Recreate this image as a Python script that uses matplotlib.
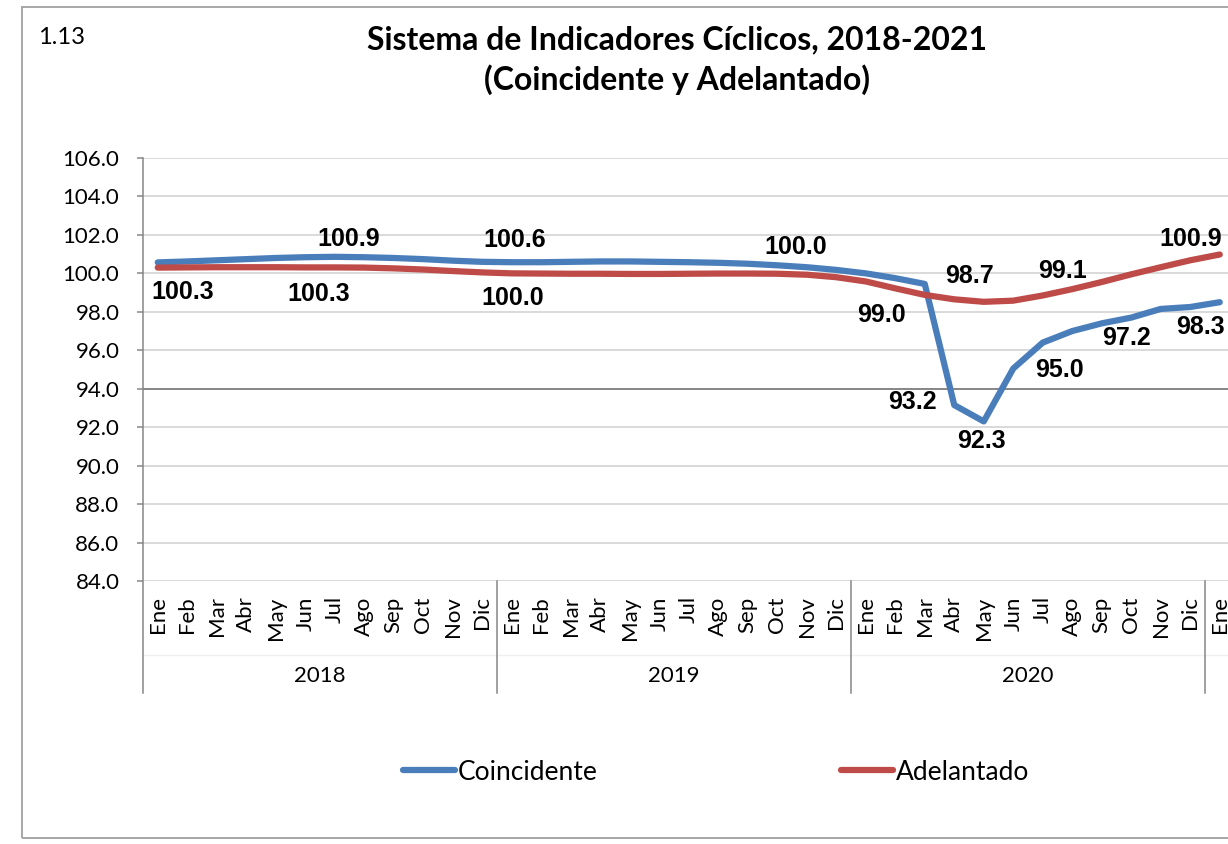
import matplotlib
matplotlib.use('Agg')
import matplotlib.pyplot as plt
import matplotlib.transforms as mtransforms
from matplotlib.patches import Rectangle

# Datos (indices 2018-ene a 2021-ene)
meses = ['Ene', 'Feb', 'Mar', 'Abr', 'May', 'Jun', 'Jul', 'Ago', 'Sep', 'Oct', 'Nov', 'Dic']
anios = ['2018', '2019', '2020']
etiquetas_x = meses * 3 + ['Ene']

coincidente = [100.57, 100.62, 100.68, 100.74, 100.80, 100.84, 100.86, 100.84, 100.80, 100.74, 100.66, 100.60,
               100.58, 100.58, 100.60, 100.62, 100.62, 100.60, 100.58, 100.55, 100.50, 100.42, 100.32, 100.18,
               100.00, 99.75, 99.45, 93.15, 92.30, 95.05, 96.40, 97.00, 97.40, 97.70, 98.15, 98.25,
               98.50]
adelantado = [100.30, 100.31, 100.32, 100.32, 100.32, 100.31, 100.31, 100.30, 100.26, 100.20, 100.12, 100.05,
              100.00, 99.99, 99.98, 99.98, 99.97, 99.97, 99.98, 99.99, 99.99, 99.98, 99.93, 99.80,
              99.58, 99.22, 98.88, 98.65, 98.52, 98.58, 98.85, 99.18, 99.55, 99.95, 100.32, 100.68,
              100.98]

# etiquetas de datos: (indice, texto)
etiquetas_coinc = [(6, '100.9'), (12, '100.6'), (21, '100.0'), (27, '93.2'), (28, '92.3'),
                   (29, '95.0'), (32, '97.2'), (35, '98.3')]
etiquetas_adel = [(0, '100.3'), (5, '100.3'), (12, '100.0'), (26, '99.0'), (27, '98.7'),
                  (31, '99.1'), (36, '100.9')]
# desplazamientos en pixeles (dx, dy hacia arriba)
desp_coinc = [(14, 18), (3, 22), (18, 18), (-42, 3), (-2, -20), (46, -1), (25, -15), (10, -20)]
desp_adel = [(25, -24), (13, -27), (1, -25), (-43, -20), (15, 23), (-10, 18), (-29, 16)]

AZUL = '#4A7EBB'
ROJO = '#BE4B48'
GRIS = '#868686'

fuente = 'Lato'
fuente_num = 'Liberation Sans'

fig = plt.figure(figsize=(12.28, 8.44), dpi=100)
W, H = 1228, 844

# marco exterior
fig.patches.append(Rectangle((22 / W, 1 - 838 / H), 1.2, (838 - 7) / H, transform=fig.transFigure,
                             fill=False, edgecolor='#A0A0A0', linewidth=1.3))

ax = fig.add_axes([143 / W, 1 - 581 / H, 1 - 143 / W, 423 / H])
x = list(range(len(coincidente)))

ax.plot(x, coincidente, color=AZUL, linewidth=4.5, solid_capstyle='round', zorder=3, label='Coincidente')
ax.plot(x, adelantado, color=ROJO, linewidth=4.5, solid_capstyle='round', zorder=3, label='Adelantado')

ax.set_ylim(84, 106)
ax.set_xlim(-0.5, -0.5 + (W - 143) / 29.5)
yt = list(range(84, 107, 2))
ax.set_yticks(yt)
ax.set_yticklabels([f'{v:.1f}' for v in yt], fontsize=16, family=fuente)
ax.set_xticks(x)
ax.set_xticklabels(etiquetas_x, rotation=90, fontsize=16, family=fuente)
ax.tick_params(axis='x', length=0, pad=11)
ax.tick_params(axis='y', length=4.5, width=1.1, color=GRIS, pad=12.5)

for s in ['top', 'right', 'bottom', 'left']:
    ax.spines[s].set_visible(False)

for v in yt:
    c = GRIS if v == 94 else '#D9D9D9'
    ax.axhline(v, color=c, linewidth=1.4, zorder=1)

# eje de categorias por anio
trans = mtransforms.blended_transform_factory(ax.transData, ax.transAxes)
bajo = -(693 - 581) / 423
for k in range(4):
    xb = -0.5 + 12 * k
    ax.plot([xb, xb], [1 if k == 0 else 0, bajo], transform=trans, color=GRIS,
            linewidth=1.1, clip_on=False, zorder=2)
ax.plot([-0.5, 40], [-(655 - 581) / 423] * 2, transform=trans, color='#F0F0F0',
        linewidth=1.0, clip_on=False, zorder=1)
for k, a in enumerate(anios):
    ax.text(5.5 + 12 * k, -(676 - 581) / 423, a, transform=trans, ha='center', va='center',
            fontsize=16, family=fuente)

# etiquetas de datos
for (i, t), (dx, dy) in zip(etiquetas_coinc, desp_coinc):
    ax.annotate(t, (i, coincidente[i]), xytext=(dx, dy), textcoords='offset pixels',
                ha='center', va='center', fontsize=18, fontweight='bold', family=fuente_num,
                annotation_clip=False, zorder=4)
for (i, t), (dx, dy) in zip(etiquetas_adel, desp_adel):
    ax.annotate(t, (i, adelantado[i]), xytext=(dx, dy), textcoords='offset pixels',
                ha='center', va='center', fontsize=18, fontweight='bold', family=fuente_num,
                annotation_clip=False, zorder=4)

# titulo
fig.text(677 / W, 1 - 40 / H, 'Sistema de Indicadores Cíclicos, 2018-2021', ha='center', va='center',
         fontsize=23, fontweight='bold', family=fuente)
fig.text(677 / W, 1 - 80 / H, '(Coincidente y Adelantado)', ha='center', va='center',
         fontsize=23, fontweight='bold', family=fuente)
fig.text(38 / W, 1 - 38 / H, '1.13', ha='left', va='center', fontsize=17, family=fuente)

fig.legend(loc='center', bbox_to_anchor=(716 / W, 1 - 772 / H), ncol=2, frameon=False,
           prop={'family': fuente, 'size': 19}, handlelength=2.0, handletextpad=0.1,
           columnspacing=9.2)

fig.savefig('out.png', dpi=100)
